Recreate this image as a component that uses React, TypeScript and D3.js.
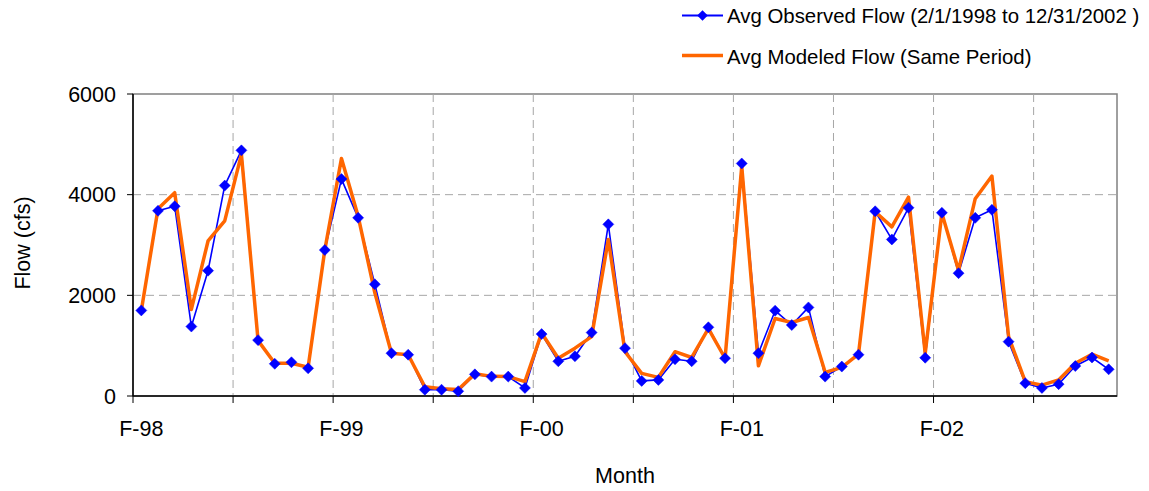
import React from 'react';
import * as d3 from 'd3';

// Monthly categories Feb 1998 .. Dec 2002 (59 months)
const months: Date[] = d3.timeMonth.range(new Date(1998, 1, 1), new Date(2003, 0, 1));

const observed: number[] = [
  1700, 3680, 3770, 1380, 2490, 4180, 4880, 1110, 640, 670, 550,
  2900, 4310, 3540, 2220, 850, 820, 125, 125, 95, 430, 385, 385, 160,
  1230, 690, 790, 1260, 3410, 950, 300, 320, 730, 690, 1365, 750,
  4620, 850, 1695, 1410, 1760, 385, 585, 820, 3670, 3110, 3740, 760,
  3640, 2440, 3540, 3700, 1080, 255, 160, 235, 595, 765, 530,
];

const modeled: number[] = [
  1700, 3720, 4040, 1720, 3080, 3480, 4800, 1100, 650, 650, 570,
  2900, 4720, 3570, 2050, 850, 820, 185, 145, 130, 440, 390, 385, 285,
  1250, 750, 950, 1180, 3110, 880, 450, 370, 880, 765, 1340, 750,
  4560, 600, 1540, 1460, 1560, 470, 570, 830, 3660, 3360, 3950, 850,
  3630, 2500, 3920, 4370, 1180, 285, 215, 320, 650, 830, 700,
];

const yTicks: number[] = [0, 2000, 4000, 6000];
const xTickLabels: string[] = ['F-98', 'F-99', 'F-00', 'F-01', 'F-02'];
const seriesNames: string[] = [
  'Avg Observed Flow (2/1/1998 to 12/31/2002 )',
  'Avg Modeled Flow (Same Period)',
];

const BLUE = '#0000FF';
const ORANGE = '#FF6600';
const FONT = '"Liberation Sans", Arial, Helvetica, sans-serif';

function diamond(cx: number, cy: number, r: number) {
  return `M${cx},${cy - r}L${cx + r},${cy}L${cx},${cy + r}L${cx - r},${cy}Z`;
}

export default function App() {
  const W = 1149, H = 491;
  const left = 133, right = 1117, top = 94, bottom = 396;

  const idx = d3.range(months.length);
  const x = d3.scaleBand<number>().domain(idx).range([left, right]).padding(0);
  const cx = (i: number) => (x(i) as number) + x.bandwidth() / 2;
  const y = d3.scaleLinear().domain([0, 6000]).range([bottom, top]);

  const line = d3.line<number>().x((_, i) => cx(i)).y((d) => y(d));

  // ticks every 6 months at slot boundaries
  const tickIdx = idx.filter((i) => i % 6 === 0);
  // labels at each February
  const labelIdx = idx.filter((i) => months[i].getMonth() === 1);

  return (
    <svg width={W} height={H} style={{ position: 'absolute', left: 0, top: 0, background: '#fff' }}
      fontFamily={FONT}>
      <rect x={0} y={0} width={W} height={H} fill="#fff" />
      {/* plot frame */}
      <rect x={left} y={top} width={right - left} height={bottom - top} fill="#fff" stroke="#808080" strokeWidth={1.5} />
      {/* horizontal gridlines */}
      {yTicks.filter((t) => t > 0 && t < 6000).map((t) => (
        <line key={'hg' + t} x1={left} x2={right} y1={y(t)} y2={y(t)} stroke="#a6a6a6" strokeWidth={1} strokeDasharray="8,5" />
      ))}
      {/* vertical gridlines */}
      {tickIdx.filter((i) => i > 0).map((i) => (
        <line key={'vg' + i} x1={x(i)} x2={x(i)} y1={top} y2={bottom} stroke="#a6a6a6" strokeWidth={1} strokeDasharray="8,5" />
      ))}
      {/* axes */}
      <line x1={left} x2={left} y1={top} y2={bottom} stroke="#000" strokeWidth={1.5} />
      <line x1={left} x2={right} y1={bottom} y2={bottom} stroke="#000" strokeWidth={1.5} />
      {yTicks.map((t) => (
        <g key={'yt' + t}>
          <line x1={left - 6} x2={left} y1={y(t)} y2={y(t)} stroke="#000" strokeWidth={1} />
          <text x={116} y={y(t)} dy="0.36em" textAnchor="end" fontSize={21.5} fill="#000">{t}</text>
        </g>
      ))}
      {tickIdx.map((i) => (
        <line key={'xt' + i} x1={x(i)} x2={x(i)} y1={bottom} y2={bottom + 7} stroke="#000" strokeWidth={1} />
      ))}
      {labelIdx.map((i, k) => (
        <text key={'xl' + i} x={cx(i)} y={436} textAnchor="middle" fontSize={21.5} fill="#000">{xTickLabels[k]}</text>
      ))}
      {/* axis titles */}
      <text x={(left + right) / 2} y={483} textAnchor="middle" fontSize={21.5} fill="#000">Month</text>
      <text transform={`translate(30,243) rotate(-90)`} textAnchor="middle" fontSize={21.5} fill="#000">Flow (cfs)</text>

      {/* series lines */}
      <path d={line(observed) || ''} fill="none" stroke={BLUE} strokeWidth={1.6} strokeLinejoin="round" />
      <path d={line(modeled) || ''} fill="none" stroke={ORANGE} strokeWidth={3.5} strokeLinejoin="round" />
      {/* markers */}
      {observed.map((v, i) => (
        <path key={'m' + i} d={diamond(cx(i), y(v), 5.5)} fill={BLUE} stroke={BLUE} strokeWidth={0.5} />
      ))}

      {/* legend */}
      <line x1={682} x2={723} y1={15.5} y2={15.5} stroke={BLUE} strokeWidth={1.8} />
      <path d={diamond(702.5, 15.5, 5.3)} fill={BLUE} />
      <text x={727} y={22.5} fontSize={20.4} fill="#000">{seriesNames[0]}</text>
      <line x1={682} x2={723} y1={55.5} y2={55.5} stroke={ORANGE} strokeWidth={3.5} />
      <text x={727} y={63.5} fontSize={20.4} fill="#000">{seriesNames[1]}</text>
    </svg>
  );
}
